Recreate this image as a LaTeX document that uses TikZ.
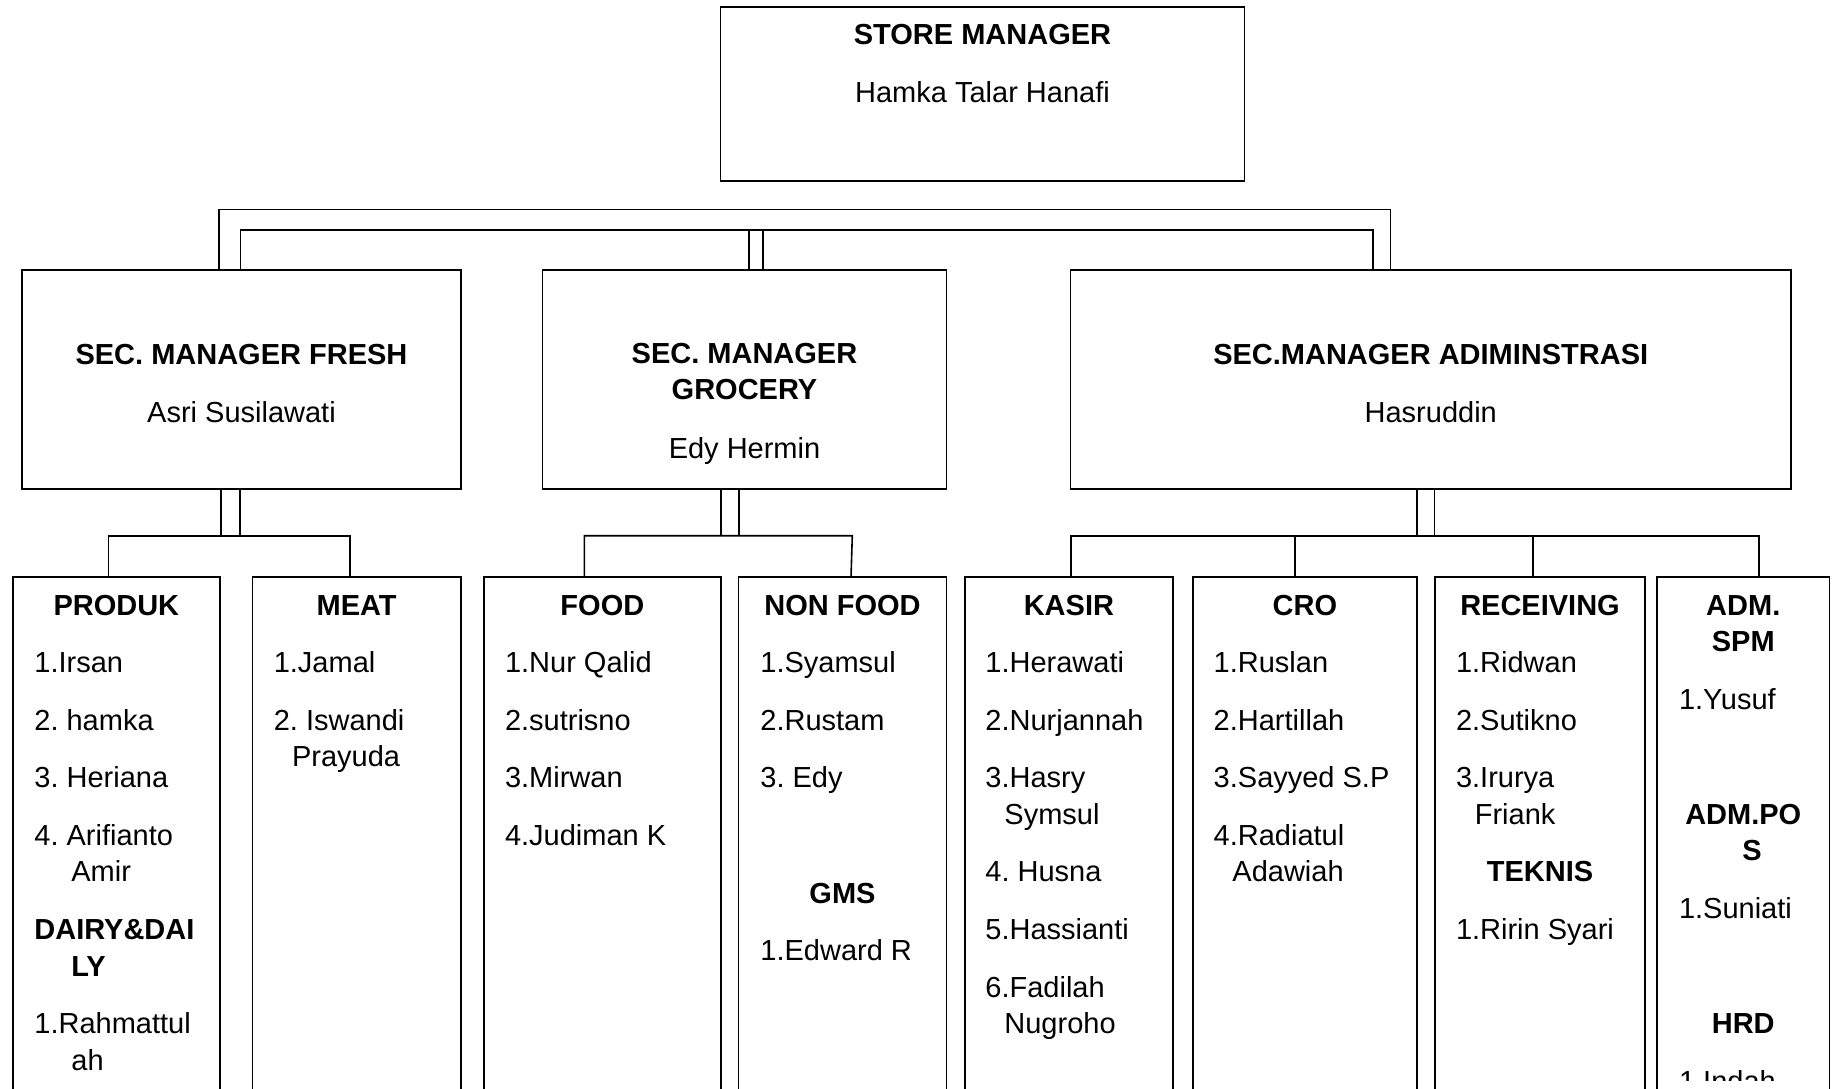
\documentclass[tikz,border=0pt]{standalone}
\usepackage{fontspec}
\setmainfont{Liberation Sans}
\usetikzlibrary{calc}

\def\orgfont{\fontsize{14.5pt}{17pt}\selectfont\frenchspacing}

\begin{document}
\begin{tikzpicture}[x=0.5pt, y=-0.5pt,
    box/.style={draw, line width=0.8pt, inner sep=0pt, outer sep=0pt, anchor=north west},
    link/.style={line width=0.8pt},
    title/.style={font=\orgfont\bfseries, anchor=base, inner sep=0pt},
    who/.style={font=\orgfont, anchor=base, inner sep=0pt},
    entry/.style={font=\orgfont, anchor=base west, inner sep=0pt}]

    % Page, in pixels (y down)
    \useasboundingbox (0,0) rectangle (1834,1088);
    \clip (0,0) rectangle (1834,1088);

    % Store manager
    \node[box, minimum width=262pt, minimum height=87pt] (store) at (720.5,7) {};
    \node[title] (store-t) at ($(store.north)+(0,37.6)$) {STORE MANAGER};
    \node[who]   (store-n) at ($(store.north)+(0,95)$)   {Hamka Talar Hanafi};

    % Section managers
    \node[box, minimum width=219.5pt,  minimum height=109.5pt] (fresh)   at (22,270)     {};
    \node[box, minimum width=202pt,    minimum height=109.5pt] (grocery) at (542.5,270)  {};
    \node[box, minimum width=360.25pt, minimum height=109.5pt] (admin)   at (1070.5,270) {};

    \node[title] (fresh-t)   at ($(fresh.north)+(0,94.3)$)    {SEC. MANAGER FRESH};
    \node[who]   (fresh-n)   at ($(fresh.north)+(0,152.5)$)   {Asri Susilawati};
    \node[title] (grocery-t) at ($(grocery.north)+(0,93.6)$)  {SEC. MANAGER};
    \node[title] (grocery-u) at ($(grocery.north)+(0,129.3)$) {GROCERY};
    \node[who]   (grocery-n) at ($(grocery.north)+(0,188)$)   {Edy Hermin};
    \node[title] (admin-t)   at ($(admin.north)+(0,94.3)$)    {SEC.MANAGER ADIMINSTRASI};
    \node[who]   (admin-n)   at ($(admin.north)+(0,152.5)$)   {Hasruddin};

    % Sections (boxes run past the page bottom)
    \node[box, minimum width=103.65pt, minimum height=261.5pt] (produk)    at (12.7,577)   {};
    \node[box, minimum width=104.35pt, minimum height=261.5pt] (meat)      at (252.3,577)  {};
    \node[box, minimum width=118.35pt, minimum height=261.5pt] (food)      at (484,577)    {};
    \node[box, minimum width=104pt,    minimum height=261.5pt] (nonfood)   at (738.5,577)  {};
    \node[box, minimum width=103.9pt,  minimum height=261.5pt] (kasir)     at (965,577)    {};
    \node[box, minimum width=112.15pt, minimum height=261.5pt] (cro)       at (1192.7,577) {};
    \node[box, minimum width=105pt,    minimum height=261.5pt] (receiving) at (1435,577)   {};
    \node[box, minimum width=86.25pt,  minimum height=261.5pt] (adm)       at (1657,577)   {};

    % Connectors, store level
    \draw[link] ($(fresh.north)+(-22.8,0)$) |- ($(admin.north)+(-40.45,-60.5)$) -- ($(admin.north)+(-40.45,0)$);
    \draw[link] ($(fresh.north)+(-1.2,0)$) |- ($(admin.north)+(-57.75,-40.3)$) -- ($(admin.north)+(-57.75,0)$);
    \foreach \dx in {4.5,18.2}{
        \draw[link] ($(grocery.north)+(\dx,0)$) -- ++(0,-40.3);
    }

    % Connectors, fresh
    \foreach \dx in {-20.8,-1.5}{
        \draw[link] ($(fresh.south)+(\dx,0)$) -- ++(0,46.7);
    }
    \draw[link] ($(produk.north)+(-8.05,0)$) |- ($(meat.north)+(-6.65,-41.3)$) -- ($(meat.north)+(-6.65,0)$);

    % Connectors, grocery
    \foreach \dx in {-23.8,-5.8}{
        \draw[link] ($(grocery.south)+(\dx,0)$) -- ++(0,46.7);
    }
    \draw[link] ($(food.north)+(-18.05,0)$) |- ($(nonfood.north)+(9.8,-41.3)$) -- ($(nonfood.north)+(8.5,0)$);

    % Connectors, administrasi
    \foreach \dx in {-13.75,3.75}{
        \draw[link] ($(admin.south)+(\dx,0)$) -- ++(0,46.7);
    }
    \draw[link] ($(kasir.north)+(1.8,0)$) |- ($(adm.north)+(15.75,-41.3)$) -- ($(adm.north)+(15.75,0)$);
    \draw[link] ($(cro.north)+(-10.05,0)$) -- ++(0,-41.3);
    \draw[link] ($(receiving.north)+(-7,0)$) -- ++(0,-41.3);

    % Section headings
    \node[title] (produk-h)    at ($(produk.north)+(0,38)$)    {PRODUK};
    \node[title] (meat-h)      at ($(meat.north)+(0,38)$)      {MEAT};
    \node[title] (food-h)      at ($(food.north)+(0,38)$)      {FOOD};
    \node[title] (nonfood-h)   at ($(nonfood.north)+(0,38)$)   {NON FOOD};
    \node[title] (kasir-h)     at ($(kasir.north)+(0,38)$)     {KASIR};
    \node[title] (cro-h)       at ($(cro.north)+(0,38)$)       {CRO};
    \node[title] (receiving-h) at ($(receiving.north)+(0,38)$) {RECEIVING};
    \node[title] (adm-h)       at ($(adm.north)+(0,38)$)       {ADM.};
    \node[title] (adm-h2)      at ($(adm.north)+(0,74.5)$)     {SPM};
    \node[title] (nonfood-g)   at ($(nonfood.north)+(0,326)$)  {GMS};
    \node[title] (receiving-t) at ($(receiving.north)+(0,304.9)$) {TEKNIS};
    \node[title] (adm-p)       at ($(adm.north)+(0,247.3)$)    {ADM.PO};
    \node[title] (adm-p2)      at ($(adm.north)+(8.75,283.8)$) {S};
    \node[title] (adm-r)       at ($(adm.north)+(0,456.6)$)    {HRD};

    % Staff
    \foreach \x/\y/\t [count=\i] in {34/672.6/1.Irsan, 34/730.2/2. hamka, 34/787.8/3. Heriana,
        34/845.4/4. Arifianto, 71/881.9/Amir, 34/939.5/{\bfseries DAIRY\&DAI}, 71/976/{\bfseries LY},
        34/1033.6/1.Rahmattul, 71/1070.1/ah}{
        \node[entry] (produk-\i) at (\x,\y) {\t};
    }
    \foreach \x/\y/\t [count=\i] in {273.4/672.6/1.Jamal, 273.4/730.2/2. Iswandi, 291.6/766.7/Prayuda}{
        \node[entry] (meat-\i) at (\x,\y) {\t};
    }
    \foreach \x/\y/\t [count=\i] in {504.6/672.6/1.Nur Qalid, 504.6/730.2/2.sutrisno,
        504.6/787.8/3.Mirwan, 504.6/845.4/4.Judiman K}{
        \node[entry] (food-\i) at (\x,\y) {\t};
    }
    \foreach \x/\y/\t [count=\i] in {760/672.6/1.Syamsul, 760/730.2/2.Rustam, 760/787.8/3. Edy,
        760/960.6/1.Edward R}{
        \node[entry] (nonfood-\i) at (\x,\y) {\t};
    }
    \foreach \x/\y/\t [count=\i] in {985/672.6/1.Herawati, 985/730.2/2.Nurjannah, 985/787.8/3.Hasry,
        1004/824.3/Symsul, 985/881.9/4. Husna, 985/939.5/5.Hassianti, 985/997.1/6.Fadilah,
        1004/1033.6/Nugroho}{
        \node[entry] (kasir-\i) at (\x,\y) {\t};
    }
    \foreach \x/\y/\t [count=\i] in {1213.3/672.6/1.Ruslan, 1213.3/730.2/2.Hartillah,
        1213.3/787.8/3.Sayyed S.P, 1213.3/845.4/4.Radiatul, 1232/881.9/Adawiah}{
        \node[entry] (cro-\i) at (\x,\y) {\t};
    }
    \foreach \x/\y/\t [count=\i] in {1455.6/672.6/1.Ridwan, 1455.6/730.2/2.Sutikno,
        1455.6/787.8/3.Irurya, 1474.4/824.3/Friank, 1455.6/939.5/1.Ririn Syari}{
        \node[entry] (receiving-\i) at (\x,\y) {\t};
    }
    \node[entry] (adm-1) at (1678.6,709.1) {1.Yusuf};
    \node[entry] (adm-2) at (1678.6,918.4) {1.Suniati};
    % last name is cut at the page foot
    \begin{scope}
        \clip (1657,1040) rectangle (1830,1080);
        \node[entry] (adm-3) at (1678.6,1091.2) {1.Indah};
    \end{scope}

\end{tikzpicture}
\end{document}
